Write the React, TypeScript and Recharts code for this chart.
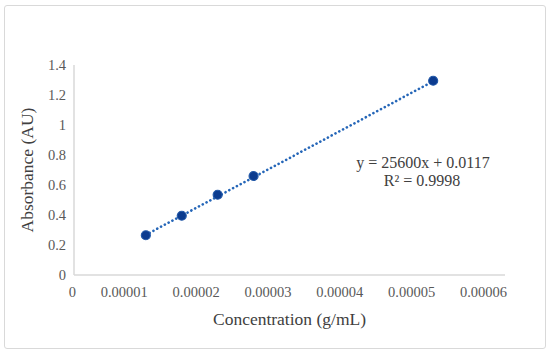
import React from 'react';
import { ScatterChart, Scatter, XAxis, YAxis, Label, Customized } from 'recharts';

const concentrations = [0.00001, 0.000015, 0.00002, 0.000025, 0.00005];
const absorbances = [0.265, 0.395, 0.535, 0.66, 1.295];
const xTicks = [0, 0.00001, 0.00002, 0.00003, 0.00004, 0.00005, 0.00006];
const xTickLabels = ['0', '0.00001', '0.00002', '0.00003', '0.00004', '0.00005', '0.00006'];
const yTicks = [0, 0.2, 0.4, 0.6, 0.8, 1, 1.2, 1.4];
const yTickLabels = ['0', '0.2', '0.4', '0.6', '0.8', '1', '1.2', '1.4'];
const slope = 25600;
const intercept = 0.0117;
const equationText = 'y = 25600x + 0.0117';
const r2Text = 'R² = 0.9998';

const points = concentrations.map((x, i) => ({ x, y: absorbances[i] }));
const trendXs = [concentrations[0], concentrations[concentrations.length - 1]];
const trend = trendXs.map((x) => ({ x, y: slope * x + intercept }));

const FONT = '"Liberation Serif", serif';

const XTick = (props: any) => {
  const { x, y, payload } = props;
  const idx = xTicks.indexOf(payload.value);
  return (
    <text x={x + 2} y={y + 14} textAnchor="end" style={{ fontFamily: FONT, fontSize: 14.5, fill: '#595959' }}>
      {idx >= 0 ? xTickLabels[idx] : payload.value}
    </text>
  );
};

const YTick = (props: any) => {
  const { x, y, payload } = props;
  const idx = yTicks.findIndex((t) => Math.abs(t - payload.value) < 1e-9);
  return (
    <text x={x} y={y + 5} textAnchor="end" style={{ fontFamily: FONT, fontSize: 14.5, fill: '#595959' }}>
      {idx >= 0 ? yTickLabels[idx] : payload.value}
    </text>
  );
};

const Dot = (props: any) => {
  const { cx, cy } = props;
  return <circle cx={cx} cy={cy} r={4.5} fill="#0b3b8f" stroke="#2359a8" strokeWidth={1.2} />;
};

const Equation = () => (
  <g>
    <text x={423} y={168} textAnchor="middle" style={{ fontFamily: FONT, fontSize: 16, fill: '#404040' }}>
      {equationText}
    </text>
    <text x={422} y={186} textAnchor="middle" style={{ fontFamily: FONT, fontSize: 16, fill: '#404040' }}>
      {r2Text}
    </text>
  </g>
);

export default function App() {
  return (
    <div style={{ position: 'absolute', left: 0, top: 0, width: 550, height: 355, background: '#fff' }}>
      <div
        style={{
          position: 'absolute',
          left: 4,
          top: 5,
          width: 540,
          height: 342,
          border: '1px solid #d9d9d9',
          borderRadius: 3,
        }}
      />
      <div style={{ position: 'absolute', left: 0, top: 0 }}>
        <ScatterChart width={550} height={355} margin={{ top: 65, right: 45, bottom: 50, left: 14 }}>
          <XAxis
            type="number"
            dataKey="x"
            domain={[0, 0.00006]}
            ticks={xTicks}
            interval={0}
            tick={<XTick />}
            tickLine={false}
            axisLine={{ stroke: '#d9d9d9', strokeWidth: 1.5 }}
            height={30}
            allowDataOverflow
          >
            <Label
              value="Concentration (g/mL)"
              position="insideBottom"
              offset={-20}
              style={{ fontFamily: FONT, fontSize: 17.5, fill: '#404040' }}
            />
          </XAxis>
          <YAxis
            type="number"
            dataKey="y"
            domain={[0, 1.4]}
            ticks={yTicks}
            interval={0}
            tick={<YTick />}
            tickLine={false}
            axisLine={{ stroke: '#d9d9d9', strokeWidth: 1.5 }}
            width={60}
            allowDataOverflow
          >
            <Label
              value="Absorbance (AU)"
              angle={-90}
              position="insideLeft"
              offset={13}
              style={{ textAnchor: 'middle', fontFamily: FONT, fontSize: 17.5, fill: '#404040' }}
            />
          </YAxis>
          <Scatter
            data={trend}
            line={{ stroke: '#2566b8', strokeWidth: 2.6, strokeDasharray: '0.1 4.2', strokeLinecap: 'round' }}
            shape={() => null}
            isAnimationActive={false}
          />
          <Scatter data={points} shape={<Dot />} isAnimationActive={false} />
          <Customized component={<Equation />} />
        </ScatterChart>
      </div>
    </div>
  );
}
